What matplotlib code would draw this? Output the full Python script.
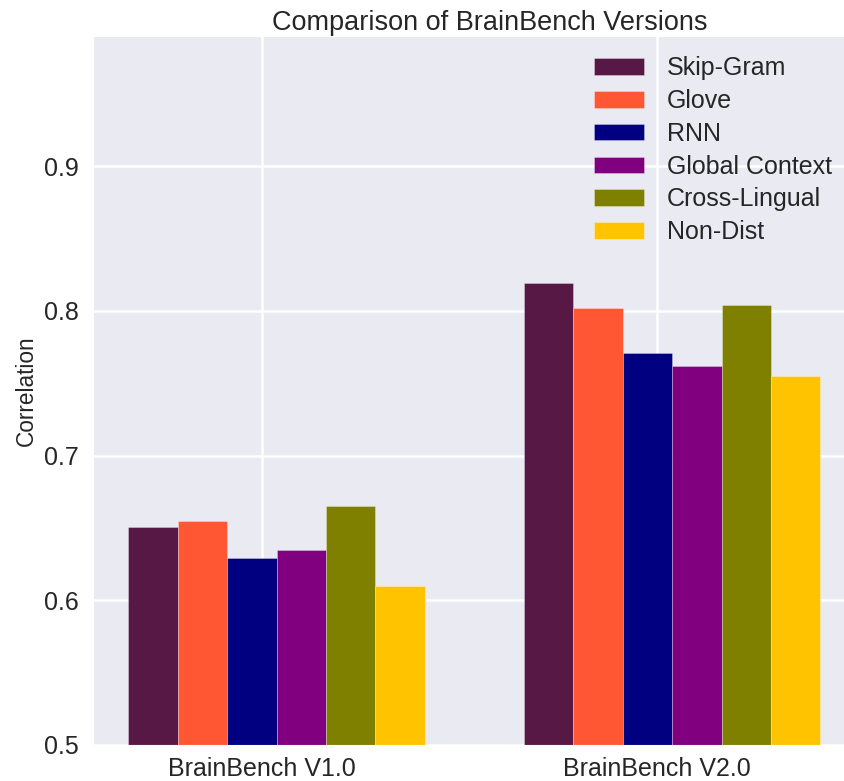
import matplotlib
matplotlib.use("Agg")
import matplotlib.pyplot as plt
import seaborn as sns
import numpy as np

sns.set_style("darkgrid")
plt.rcParams['font.family'] = ['Liberation Sans', 'DejaVu Sans']

groups = ["BrainBench V1.0", "BrainBench V2.0"]
models = ["Skip-Gram", "Glove", "RNN", "Global Context", "Cross-Lingual", "Non-Dist"]
skip_gram = [0.651, 0.819]
glove = [0.655, 0.802]
rnn = [0.629, 0.771]
global_context = [0.635, 0.762]
cross_lingual = [0.665, 0.804]
non_dist = [0.610, 0.755]
series = [skip_gram, glove, rnn, global_context, cross_lingual, non_dist]
colors = ["#581845", "#FF5733", "#000080", "#800080", "#808000", "#FFC300"]

fig = plt.figure(figsize=(8.45, 7.81), dpi=100)
ax = fig.add_axes([93/845, 36/781, 752/845, 709/781])

ind = np.arange(len(groups))
width = 0.125
for i, (vals, c, m) in enumerate(zip(series, colors, models)):
    ax.bar(ind + (i - 2.2) * width, vals, width, color=c, label=m,
           edgecolor=(1, 1, 1, 0.35), linewidth=0.6)

ax.grid(True, color="white", linewidth=1.8)
ax.set_axisbelow(True)
ax.set_xticks(ind)
ax.set_xticklabels(groups, fontsize=18)
ax.set_xlim(-0.4265, 1.4745)
ax.set_ylim(0.5, 0.99)
ax.set_yticks([0.5, 0.6, 0.7, 0.8, 0.9])
ax.set_yticklabels(["0.5", "0.6", "0.7", "0.8", "0.9"], fontsize=18)
ax.tick_params(axis='y', pad=7)
ax.tick_params(axis='x', pad=5)
ax.set_ylabel("Correlation", fontsize=16.3, labelpad=4)
ax.set_title("Comparison of BrainBench Versions", fontsize=19.5, pad=4, x=0.527)
ax.legend(loc="upper right", fontsize=18, frameon=False, handlelength=2.0,
          handleheight=0.64, handletextpad=0.9, labelspacing=0.35,
          bbox_to_anchor=(1.012, 1.003))

fig.savefig("out.png", dpi=100)
